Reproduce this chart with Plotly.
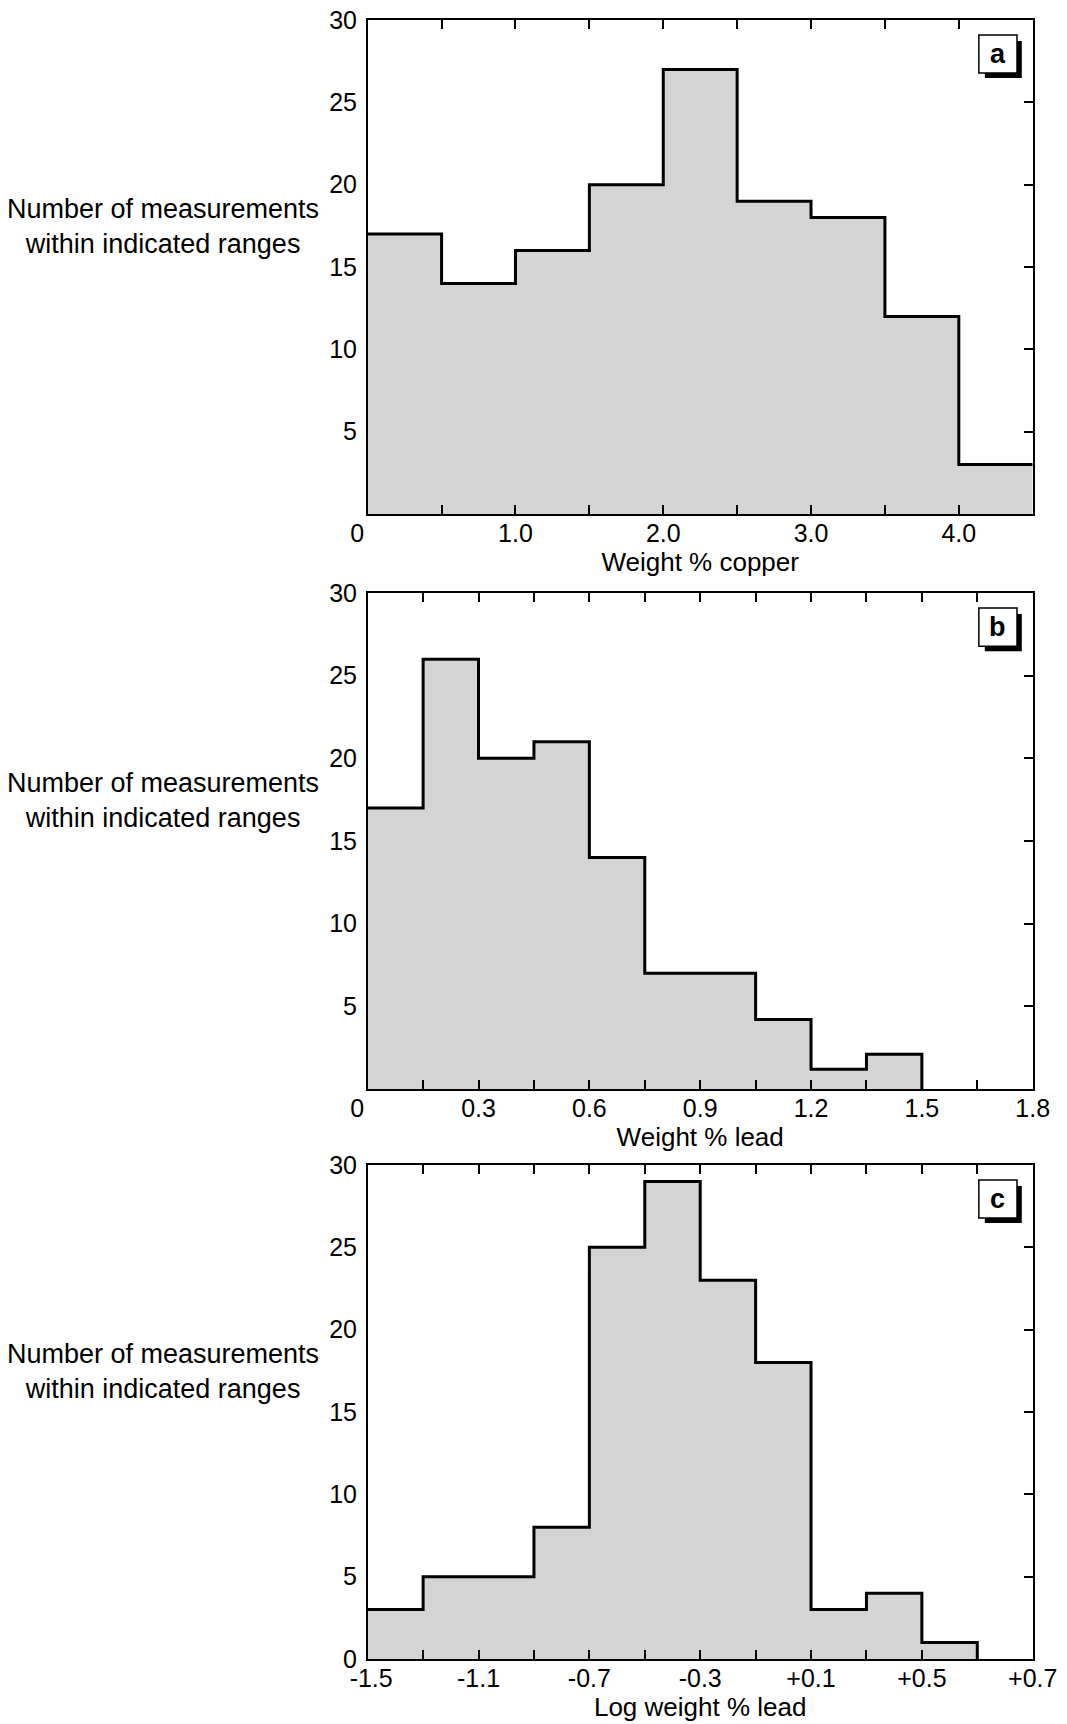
import plotly.graph_objects as go

# ---------------- data ----------------
cu_edges = [0, 0.5, 1.0, 1.5, 2.0, 2.5, 3.0, 3.5, 4.0, 4.5]
cu_counts = [17, 14, 16, 20, 27, 19, 18, 12, 3]

pb_edges = [0, 0.15, 0.3, 0.45, 0.6, 0.75, 0.9, 1.05, 1.2, 1.35, 1.5]
pb_counts = [17, 26, 20, 21, 14, 7, 7, 4.2, 1.2, 2.1]

logpb_edges = [-1.5, -1.3, -1.1, -0.9, -0.7, -0.5, -0.3, -0.1, 0.1, 0.3, 0.5, 0.7]
logpb_counts = [3, 5, 5, 8, 25, 29, 23, 18, 3, 4, 1]

NB = "\u00a0"
cu_tickvals = [0, 0.5, 1.0, 1.5, 2.0, 2.5, 3.0, 3.5, 4.0, 4.5]
cu_ticktext = ["0" + NB * 3, "", "1.0", "", "2.0", "", "3.0", "", "4.0", ""]
pb_tickvals = [0, 0.15, 0.3, 0.45, 0.6, 0.75, 0.9, 1.05, 1.2, 1.35, 1.5, 1.65, 1.8]
pb_ticktext = ["0" + NB * 3, "", "0.3", "", "0.6", "", "0.9", "", "1.2", "", "1.5", "", "1.8"]
log_tickvals = [-1.5, -1.3, -1.1, -0.9, -0.7, -0.5, -0.3, -0.1, 0.1, 0.3, 0.5, 0.7, 0.9]
log_ticktext = [NB + "-1.5", "", "-1.1", "", "-0.7", "", "-0.3", "", "+0.1", "", "+0.5", "", "+0.7"]

y_ticks_ab = [5, 10, 15, 20, 25, 30]
y_ticks_c = [0, 5, 10, 15, 20, 25, 30]

x_titles = ["Weight % copper", "Weight % lead", "Log weight % lead"]
panel_labels = ["a", "b", "c"]
y_title = "Number of measurements<br>within indicated ranges"

# ---------------- layout geometry ----------------
W, H = 1067, 1724
x_dom = [367.7 / W, 1032.7 / W]
panels_px = [(20, 514), (593, 1089), (1165, 1659)]
y_doms = [[1 - b / H, 1 - t / H] for t, b in panels_px]

FONT = "Liberation Sans, Arial, sans-serif"
FILL = "#d4d4d4"

fig = go.Figure()

datasets = [
    (cu_edges, cu_counts + [cu_counts[-1]], [0, 4.5], cu_tickvals, cu_ticktext, y_ticks_ab),
    (pb_edges, pb_counts + [0], [0, 1.8], pb_tickvals, pb_ticktext, y_ticks_ab),
    (logpb_edges, logpb_counts + [0], [-1.5, 0.9], log_tickvals, log_ticktext, y_ticks_c),
]

layout = dict(
    width=W, height=H,
    margin=dict(l=0, r=0, t=0, b=0, autoexpand=False),
    paper_bgcolor="white", plot_bgcolor="white",
    showlegend=False,
    font=dict(family=FONT, color="black"),
)
shapes = []
annotations = []

for i, (xs, ys, xr, tv, tt, ytv) in enumerate(datasets):
    n = i + 1
    xa = "x" if n == 1 else f"x{n}"
    ya = "y" if n == 1 else f"y{n}"
    yr_name = f"y{n + 3}"
    fig.add_trace(go.Scatter(
        x=xs, y=ys, mode="lines", line_shape="hv",
        line=dict(color="black", width=3),
        fill="tozeroy", fillcolor=FILL,
        xaxis=xa, yaxis=ya, hoverinfo="skip",
    ))
    # dummy trace for right-hand tick axis
    fig.add_trace(go.Scatter(x=[xr[0]], y=[0], mode="markers", marker=dict(opacity=0),
                             xaxis=xa, yaxis=yr_name, hoverinfo="skip"))

    layout[f"xaxis{'' if n == 1 else n}"] = dict(
        domain=x_dom, anchor=ya, range=xr, automargin=False,
        tickmode="array", tickvals=tv, ticktext=tt,
        ticks="inside", ticklen=9, tickwidth=1.5, tickcolor="black",
        showline=True, linecolor="black", linewidth=1.5, mirror="ticks",
        showgrid=False, zeroline=False,
        tickfont=dict(size=25, family=FONT, color="black"),
        ticklabelstandoff=-4,
        title=dict(text=x_titles[i], font=dict(size=26, family=FONT, color="black"), standoff=2),
    )
    layout[f"yaxis{'' if n == 1 else n}"] = dict(
        domain=y_doms[i], anchor=xa, range=[0, 30], automargin=False,
        tickmode="array", tickvals=ytv,
        ticks="", showline=True, linecolor="black", linewidth=1.5, mirror=True,
        showgrid=False, zeroline=False,
        tickfont=dict(size=25, family=FONT, color="black"),
        ticklabelstandoff=4,
    )
    layout[f"yaxis{n + 3}"] = dict(
        domain=y_doms[i], anchor=xa, overlaying=ya, side="right", range=[0, 30], automargin=False,
        tickmode="array", tickvals=[5, 10, 15, 20, 25],
        ticks="inside", ticklen=9, tickwidth=1.5, tickcolor="black",
        showticklabels=False, showline=False, showgrid=False, zeroline=False,
    )

    xd = f"{xa} domain"
    yd = f"{ya} domain"
    # label box shadow
    shapes.append(dict(type="rect", xref=xd, yref=yd, x0=0.928, x1=0.9836, y0=0.8826, y1=0.9575,
                       fillcolor="black", line=dict(width=0), layer="above"))
    shapes.append(dict(type="rect", xref=xd, yref=yd, x0=0.919, x1=0.9764, y0=0.8927, y1=0.9696,
                       fillcolor="white", line=dict(color="black", width=1.5), layer="above"))
    annotations.append(dict(text=f"<b>{panel_labels[i]}</b>", xref=xd, yref=yd, x=0.9477, y=0.931,
                            showarrow=False, font=dict(size=27, family=FONT, color="black"),
                            xanchor="center", yanchor="middle"))
    annotations.append(dict(text=y_title, xref="paper", yref=yd, x=163 / W, y=0.581,
                            showarrow=False, align="center",
                            font=dict(size=27, family=FONT, color="black"),
                            xanchor="center", yanchor="middle"))

layout["shapes"] = shapes
layout["annotations"] = annotations
fig.update_layout(**layout)
fig.write_html("out.html",
               config={"displayModeBar": False},
               post_script="document.body.style.margin='0';document.body.style.overflow='hidden';")
